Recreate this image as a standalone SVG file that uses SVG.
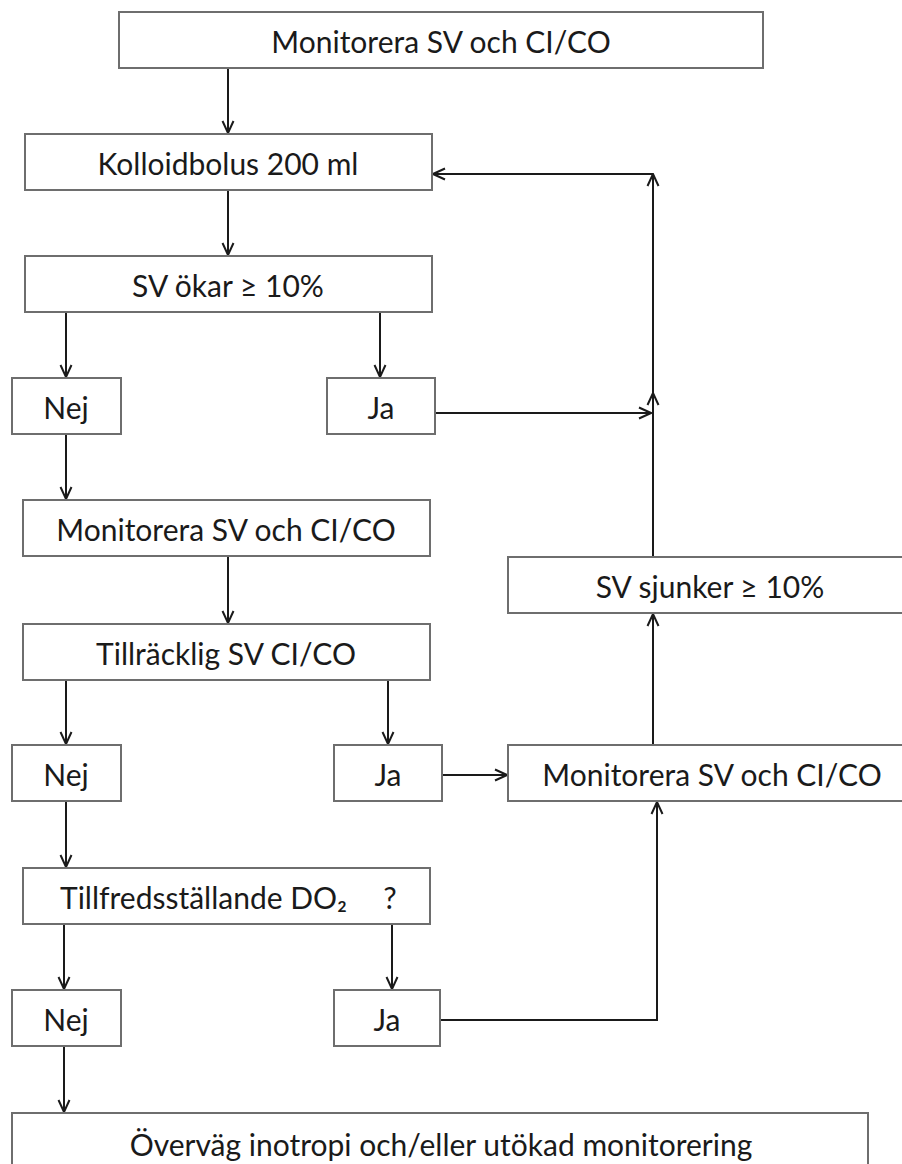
<svg xmlns="http://www.w3.org/2000/svg" width="902" height="1164" viewBox="0 0 902 1164">
<defs>
<marker id="arr" viewBox="0 0 14 14" refX="13" refY="7" markerWidth="14" markerHeight="14" markerUnits="userSpaceOnUse" orient="auto">
<path d="M1,1.5 L13,7 L1,12.5" fill="none" stroke="#1a1a1a" stroke-width="2"/>
</marker>
</defs>
<style>
.box{fill:#fff;stroke:#6e6e6e;stroke-width:2}
.t{font-family:Lato,"Open Sans",sans-serif;font-size:30px;fill:#1a1a1a;text-anchor:middle;dominant-baseline:central}
.c{fill:none;stroke:#1a1a1a;stroke-width:2;marker-end:url(#arr)}
</style>
<rect width="902" height="1164" fill="#fff"/>
<g id="connectors">
<path class="c" d="M228,68 V133"/>
<path class="c" d="M228,190 V255"/>
<path class="c" d="M66,312 V377"/>
<path class="c" d="M380,312 V377"/>
<path class="c" d="M435,413 H651"/>
<path class="c" d="M653,557 V393"/>
<path class="c" d="M653,400 V174"/>
<path class="c" d="M653,174 H433"/>
<path class="c" d="M66,434 V499"/>
<path class="c" d="M228,556 V623"/>
<path class="c" d="M66,680 V744"/>
<path class="c" d="M388,680 V744"/>
<path class="c" d="M442,775 H507"/>
<path class="c" d="M653,745 V614"/>
<path class="c" d="M66,801 V867"/>
<path class="c" d="M64,924 V989"/>
<path class="c" d="M392,924 V989"/>
<path class="c" d="M440,1020 H657 V802"/>
<path class="c" d="M64,1046 V1112"/>
</g>
<g id="n1"><rect class="box" x="119" y="12" width="644" height="56"/><text class="t" x="441" y="41">Monitorera SV och CI/CO</text></g>
<g id="n2"><rect class="box" x="25" y="134" width="407" height="56"/><text class="t" x="228" y="163">Kolloidbolus 200 ml</text></g>
<g id="n3"><rect class="box" x="25" y="256" width="407" height="56"/><text class="t" x="228" y="285">SV ökar ≥ 10%</text></g>
<g id="n4"><rect class="box" x="12" y="378" width="109" height="56"/><text class="t" x="66" y="407">Nej</text></g>
<g id="n5"><rect class="box" x="327" y="378" width="108" height="56"/><text class="t" x="381" y="407">Ja</text></g>
<g id="n6"><rect class="box" x="23" y="500" width="407" height="56"/><text class="t" x="226" y="529">Monitorera SV och CI/CO</text></g>
<g id="n7"><rect class="box" x="508" y="557" width="400" height="56"/><text class="t" x="710" y="586">SV sjunker ≥ 10%</text></g>
<g id="n8"><rect class="box" x="23" y="624" width="407" height="56"/><text class="t" x="226" y="653">Tillräcklig SV CI/CO</text></g>
<g id="n9"><rect class="box" x="12" y="745" width="109" height="56"/><text class="t" x="66" y="774">Nej</text></g>
<g id="n10"><rect class="box" x="334" y="745" width="108" height="56"/><text class="t" x="388" y="774">Ja</text></g>
<g id="n11"><rect class="box" x="508" y="745" width="400" height="56"/><text class="t" x="712" y="774">Monitorera SV och CI/CO</text></g>
<g id="n12"><rect class="box" x="23" y="868" width="407" height="56"/><text class="t" x="60" y="897" style="text-anchor:start">Tillfredsställande DO₂</text><text class="t" x="390" y="897">?</text></g>
<g id="n13"><rect class="box" x="12" y="990" width="109" height="56"/><text class="t" x="66" y="1019">Nej</text></g>
<g id="n14"><rect class="box" x="334" y="990" width="106" height="56"/><text class="t" x="387" y="1019">Ja</text></g>
<g id="n15"><rect class="box" x="12" y="1113" width="856" height="60"/><text class="t" x="441" y="1144">Överväg inotropi och/eller utökad monitorering</text></g>
</svg>
